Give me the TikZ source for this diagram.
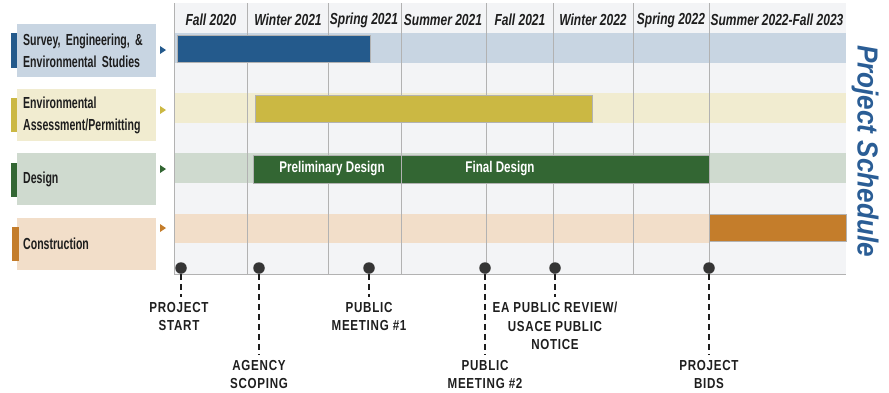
\documentclass[tikz,border=0pt]{standalone}
\usepackage{fontspec}
\setmainfont{Liberation Sans}
\newfontfamily\condfont[FakeStretch=0.75]{Liberation Sans}
\newfontfamily\rowfont[FakeStretch=0.66]{Liberation Sans}
\newfontfamily\msfont[FakeStretch=0.8, LetterSpace=5]{Liberation Sans}
\newfontfamily\titlefont[FakeStretch=0.9]{Liberation Sans}
\usetikzlibrary{positioning}

\definecolor{chartbg}{HTML}{F3F4F6}
\definecolor{gridgray}{HTML}{B2B2B2}
\definecolor{surveydark}{HTML}{245A8C}
\definecolor{surveylight}{HTML}{C8D5E2}
\definecolor{envdark}{HTML}{CBB843}
\definecolor{envlight}{HTML}{F1ECD0}
\definecolor{designdark}{HTML}{336633}
\definecolor{designlight}{HTML}{CFDACF}
\definecolor{constrdark}{HTML}{C47D2B}
\definecolor{constrlight}{HTML}{F2DEC9}
\definecolor{titleblue}{HTML}{2A5D95}
\definecolor{inkdark}{HTML}{1E1E1E}

\begin{document}
\begin{tikzpicture}[
  x=1pt, y=-1pt,
  head/.style={font=\condfont\bfseries\itshape\fontsize{16}{18}\selectfont, text=inkdark, inner sep=0},
  rowbox/.style={anchor=north west, minimum width=139pt, minimum height=52pt, inner xsep=6pt,
    text width=127pt, align=left, font=\rowfont\bfseries\fontsize{16}{21.5}\selectfont, text=inkdark},
  bar/.style={draw=gridgray, line width=0.8pt},
  barlabel/.style={text=white, font=\condfont\bfseries\fontsize{15.5}{17}\selectfont, inner sep=0},
  msdot/.style={circle, fill=inkdark!90, minimum size=11.5pt, inner sep=0},
  mslabel/.style={anchor=north, align=center, inner sep=0, text=inkdark,
    font=\msfont\bfseries\fontsize{14.5}{18.5}\selectfont},
  msline/.style={inkdark, line width=2.4pt, dash pattern=on 6pt off 4pt, shorten >=5pt}
]
\useasboundingbox (0,0) rectangle (889,392);

\fill[chartbg] (174,3) rectangle (846,274);
\fill[surveylight] (174,33) rectangle (846,63);
\fill[envlight] (174,93) rectangle (846,123);
\fill[designlight] (174,153) rectangle (846,183);
\fill[constrlight] (174,214) rectangle (709,243);

\foreach \x in {247,328,401,486,553,633,709}
  \draw[gridgray, line width=0.8pt] (\x,3) -- (\x,274);
\draw[gridgray, line width=0.8pt] (174,3) -- (174,274);
\draw[gridgray, line width=1pt] (174,274) -- (846,274);

\foreach \x/\t [count=\i] in {211/Fall 2020, 288/Winter 2021, 364/Spring 2021, 443/Summer 2021,
    520/Fall 2021, 593/Winter 2022, 671/Spring 2022, 777/Summer 2022-Fall 2023}
  \node[head] (h\i) at (\x,20) {\t};

\node[rowbox, fill=surveylight, minimum height=53pt] (survey) at (17,24) {Survey, Engineering, \&\\Environmental Studies};
\node[rowbox, fill=envlight] (envir) at (17,89) {Environmental\\Assessment/Permitting};
\node[rowbox, fill=designlight] (design) at (17,153) {Design};
\node[rowbox, fill=constrlight] (constr) at (17,218) {Construction};

\fill[surveydark] (11,33) rectangle (17,68);
\fill[envdark] (11,98) rectangle (17,132);
\fill[designdark] (11,163) rectangle (17,197);
\fill[constrdark] (12,227) rectangle (19,261);

\fill[surveydark] (160,46) -- (166,50) -- (160,54) -- cycle;
\fill[envdark] (160,106) -- (166,110) -- (160,114) -- cycle;
\fill[designdark] (160,165) -- (166,169) -- (160,173) -- cycle;
\fill[constrdark] (160,224) -- (166,228) -- (160,232) -- cycle;

\draw[bar, fill=surveydark] (177,35) rectangle (370,62);
\draw[bar, fill=envdark] (255,95) rectangle (592,122);
\draw[bar, fill=designdark] (253,155) rectangle (401,183);
\draw[bar, fill=designdark] (401,155) rectangle (709,183);
\draw[bar, fill=constrdark] (709,214) rectangle (846,241);

\node[barlabel] (prelim) at (332,169) {Preliminary Design};
\node[barlabel] (final) at (500,169) {Final Design};

\node[rotate=-90, text=titleblue, font=\titlefont\bfseries\itshape\fontsize{29}{30}\selectfont, inner sep=0]
  (title) at (865,151) {Project Schedule};

\node[msdot] (m1) at (181,268) {};
\node[msdot] (m2) at (259,268) {};
\node[msdot] (m3) at (369,268) {};
\node[msdot] (m4) at (485,268) {};
\node[msdot] (m5) at (555,268) {};
\node[msdot] (m6) at (709,268) {};

\node[mslabel] (l1) at (179,302) {PROJECT\\START};
\node[mslabel] (l2) at (259,360) {AGENCY\\SCOPING};
\node[mslabel] (l3) at (369,302) {PUBLIC\\MEETING \#1};
\node[mslabel] (l4) at (485,360) {PUBLIC\\MEETING \#2};
\node[mslabel] (l5) at (555,302) {EA PUBLIC REVIEW/\\USACE PUBLIC\\NOTICE};
\node[mslabel] (l6) at (709,360) {PROJECT\\BIDS};

\foreach \i in {1,...,6}
  \draw[msline] (m\i.south) -- (m\i.south |- l\i.north);
\end{tikzpicture}
\end{document}
